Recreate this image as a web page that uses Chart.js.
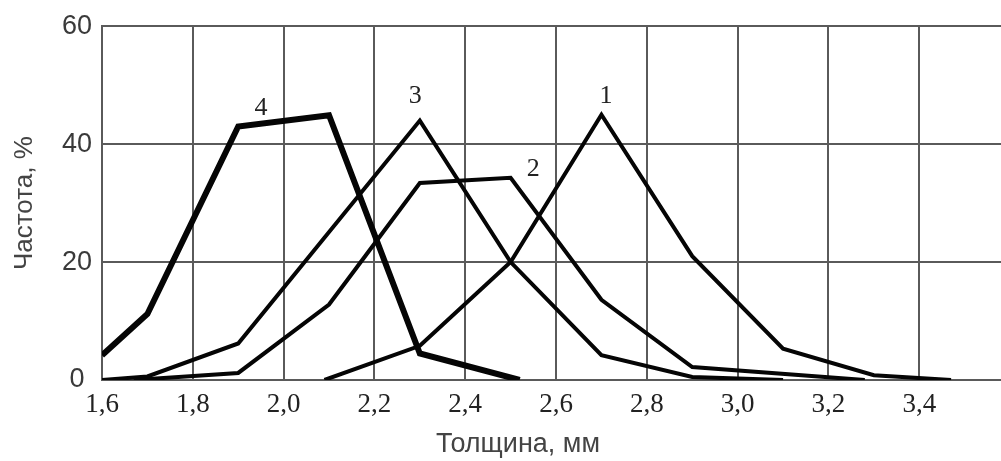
<!DOCTYPE html>
<html>
<head>
<meta charset="utf-8">
<script src="https://cdn.jsdelivr.net/npm/chart.js@4/dist/chart.umd.min.js"></script>
<style>
  body { margin: 0; background: #fff; }
  #wrap { width: 1001px; height: 461px; }
</style>
</head>
<body>
<div id="wrap"><canvas id="chart"></canvas></div>
<script>
// curve 1..4, thickness in mm vs frequency in %
const curve1X = [2.09, 2.3, 2.5, 2.7, 2.9, 3.1, 3.3, 3.47];
const curve1Y = [0, 5.8, 20, 45, 21, 5.3, 0.8, 0];
const curve2X = [1.67, 1.9, 2.1, 2.3, 2.5, 2.7, 2.9, 3.28];
const curve2Y = [0, 1.2, 12.8, 33.4, 34.3, 13.6, 2.2, 0];
const curve3X = [1.6, 1.7, 1.9, 2.3, 2.5, 2.7, 2.9, 3.1];
const curve3Y = [0, 0.6, 6.2, 44, 20, 4.2, 0.5, 0];
const curve4X = [1.6, 1.7, 1.9, 2.1, 2.3, 2.52];
const curve4Y = [4.2, 11.2, 43, 44.9, 4.5, 0];

const curveNames = ['1', '2', '3', '4'];
const nameX = [2.71, 2.55, 2.29, 1.95];
const nameY = [48.2, 35.7, 48.1, 46.1];

const xTicks = [1.6, 1.8, 2.0, 2.2, 2.4, 2.6, 2.8, 3.0, 3.2, 3.4];
const yTicks = [0, 20, 40, 60];

const gridColor = '#5a5a5a';

function points(xs, ys) {
    return xs.map((x, i) => ({ x: x, y: ys[i] }));
}

const curveNamesPlugin = {
    id: 'curveNames',
    afterDatasetsDraw(chart) {
        const ctx = chart.ctx;
        const xs = chart.scales.x;
        const ys = chart.scales.y;
        ctx.save();
        ctx.font = '26px "Liberation Serif"';
        ctx.fillStyle = '#222';
        ctx.textAlign = 'center';
        ctx.textBaseline = 'middle';
        curveNames.forEach((name, i) => {
            ctx.fillText(name, xs.getPixelForValue(nameX[i]), ys.getPixelForValue(nameY[i]));
        });
        // x axis title
        ctx.font = '27px "Liberation Sans"';
        ctx.fillStyle = '#444';
        ctx.fillText('Толщина, мм', 518, 445);
        ctx.restore();
    }
};

const ctx = document.getElementById('chart').getContext('2d');
const lineStyle = { borderColor: '#050505', pointRadius: 0, tension: 0, fill: false };

new Chart(ctx, {
    type: 'line',
    data: {
        datasets: [
            { label: '1', data: points(curve1X, curve1Y), borderWidth: 4, ...lineStyle },
            { label: '2', data: points(curve2X, curve2Y), borderWidth: 4, ...lineStyle },
            { label: '3', data: points(curve3X, curve3Y), borderWidth: 4, ...lineStyle },
            { label: '4', data: points(curve4X, curve4Y), borderWidth: 6, ...lineStyle }
        ]
    },
    options: {
        responsive: true,
        maintainAspectRatio: false,
        animation: false,
        devicePixelRatio: 1,
        layout: { padding: { top: 4, right: 0, bottom: 0, left: 0 } },
        plugins: {
            legend: { display: false },
            tooltip: { enabled: false }
        },
        scales: {
            x: {
                type: 'linear',
                min: 1.6,
                max: 3.58,
                afterBuildTicks: scale => { scale.ticks = xTicks.map(v => ({ value: v })); },
                afterFit: scale => { scale.height = 81; },
                grid: { color: gridColor, lineWidth: 2, drawTicks: false },
                border: { color: gridColor, width: 2 },
                ticks: {
                    autoSkip: false,
                    maxRotation: 0,
                    padding: 9,
                    color: '#222',
                    font: { family: 'Liberation Serif', size: 27 },
                    callback: v => v.toFixed(1).replace('.', ',')
                }
            },
            y: {
                min: 0,
                max: 60,
                afterBuildTicks: scale => { scale.ticks = yTicks.map(v => ({ value: v })); },
                afterFit: scale => { scale.width = 102; },
                grid: { color: gridColor, lineWidth: 2, drawTicks: false },
                border: { color: gridColor, width: 2 },
                ticks: {
                    padding: 10,
                    crossAlign: 'center',
                    color: '#3a3a3a',
                    font: { family: 'Liberation Sans', size: 27 }
                },
                title: {
                    display: true,
                    text: 'Частота, %',
                    color: '#444',
                    font: { family: 'Liberation Sans', size: 26 },
                    padding: { top: 9, bottom: 0 }
                }
            }
        }
    },
    plugins: [curveNamesPlugin]
});
</script>
</body>
</html>
